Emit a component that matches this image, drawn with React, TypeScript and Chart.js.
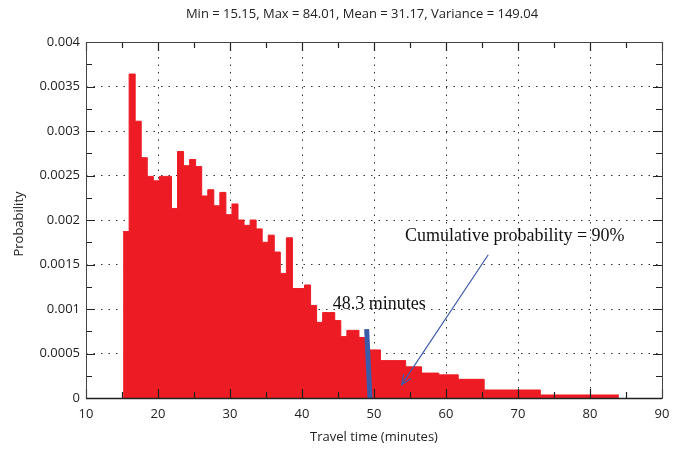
import React, { useEffect, useRef } from 'react';
import { Chart, registerables } from 'chart.js';
Chart.register(...registerables);

// Histogram bin left edges (last value = right edge of last bin)
const binEdges = [
  15.15, 15.99, 16.83, 17.67, 18.51, 19.35, 20.19, 21.03, 21.87, 22.71,
  23.55, 24.39, 25.23, 26.07, 26.91, 27.75, 28.59, 29.43, 30.27, 31.11,
  31.95, 32.79, 33.63, 34.47, 35.31, 36.15, 36.99, 37.83, 38.67, 39.51,
  40.35, 41.19, 42.03, 42.87, 43.71, 44.55, 45.39, 46.23, 47.07, 47.91,
  48.75, 50.9, 54.4, 56.6, 59.0, 61.7, 65.3, 73.1, 84.01,
];
// Probability of each bin
const binProbabilities = [
  0.00187, 0.00364, 0.00311, 0.0027, 0.00249, 0.00244, 0.00249, 0.00249, 0.00213, 0.00277,
  0.00261, 0.00268, 0.0026, 0.00227, 0.00234, 0.00216, 0.00231, 0.00206, 0.00218, 0.002,
  0.00194, 0.002, 0.0019, 0.00175, 0.00183, 0.00164, 0.0014, 0.0018, 0.00123, 0.00123,
  0.00127, 0.00104, 0.00085, 0.00096, 0.00096, 0.00087, 0.00069, 0.00076, 0.00076, 0.00068,
  0.00054, 0.00042, 0.00035, 0.00028, 0.00026, 0.00021, 0.00009, 0.000034,
];
const markerX = [48.98, 49.44];
const markerY = [0.000775, 0];
const arrowFrom = { x: 65.87, y: 0.00161 };
const arrowTo = { x: 53.85, y: 0.00015 };
const minutesLabelAt = { x: 44.26, y: 0.001 };
const cumulativeLabelAt = { x: 54.3, y: 0.001767 };

const titleText = 'Min = 15.15, Max = 84.01, Mean = 31.17, Variance = 149.04';
const xTitle = 'Travel time (minutes)';
const yTitle = 'Probability';
const minutesLabel = '48.3 minutes';
const cumulativeLabel = 'Cumulative probability = 90%';

const SANS = '"Open Sans", "Noto Sans", sans-serif';
const SERIF = '"Liberation Serif", "DejaVu Serif", serif';

const decor = {
  id: 'decor',
  afterDraw(chart: any) {
    const ctx = chart.ctx;
    const { left, right, top, bottom } = chart.chartArea;
    const xs = chart.scales.x;
    const ys = chart.scales.y;
    ctx.save();
    // ticks (inward, all four sides)
    ctx.strokeStyle = '#222';
    ctx.lineWidth = 1.2;
    ctx.beginPath();
    for (let v = 10; v <= 90; v += 5) {
      const px = Math.round(xs.getPixelForValue(v)) + 0.5;
      const len = v % 10 === 0 ? 9 : 6;
      ctx.moveTo(px, bottom);
      ctx.lineTo(px, bottom - len);
      ctx.moveTo(px, top);
      ctx.lineTo(px, top + len);
    }
    for (let i = 0; i <= 16; i++) {
      const v = i * 0.00025;
      const py = Math.round(ys.getPixelForValue(v)) + 0.5;
      const len = i % 2 === 0 ? 9 : 6;
      ctx.moveTo(left, py);
      ctx.lineTo(left + len, py);
      ctx.moveTo(right, py);
      ctx.lineTo(right - len, py);
    }
    ctx.stroke();
    // box
    ctx.strokeStyle = '#444';
    ctx.lineWidth = 1;
    ctx.strokeRect(Math.round(left) + 0.5, Math.round(top) + 0.5, Math.round(right - left), Math.round(bottom - top));
    ctx.strokeStyle = '#222';
    ctx.lineWidth = 1.5;
    ctx.beginPath();
    ctx.moveTo(left, Math.round(bottom) + 0.5);
    ctx.lineTo(right, Math.round(bottom) + 0.5);
    ctx.stroke();

    // arrow
    const ax0 = xs.getPixelForValue(arrowFrom.x);
    const ay0 = ys.getPixelForValue(arrowFrom.y);
    const ax1 = xs.getPixelForValue(arrowTo.x);
    const ay1 = ys.getPixelForValue(arrowTo.y);
    ctx.strokeStyle = '#3b5ba9';
    ctx.lineWidth = 1.2;
    ctx.beginPath();
    ctx.moveTo(ax0, ay0);
    ctx.lineTo(ax1, ay1);
    const ang = Math.atan2(ay1 - ay0, ax1 - ax0);
    const hl = 11;
    const ha = 0.4;
    ctx.moveTo(ax1 - hl * Math.cos(ang - ha), ay1 - hl * Math.sin(ang - ha));
    ctx.lineTo(ax1, ay1);
    ctx.lineTo(ax1 - hl * Math.cos(ang + ha), ay1 - hl * Math.sin(ang + ha));
    ctx.stroke();

    // annotation texts
    ctx.fillStyle = '#111';
    ctx.font = '18px ' + SERIF;
    ctx.textAlign = 'left';
    ctx.textBaseline = 'alphabetic';
    ctx.fillText(minutesLabel, xs.getPixelForValue(minutesLabelAt.x), ys.getPixelForValue(minutesLabelAt.y));
    ctx.fillText(cumulativeLabel, xs.getPixelForValue(cumulativeLabelAt.x), ys.getPixelForValue(cumulativeLabelAt.y));

    // titles
    ctx.fillStyle = '#222';
    ctx.font = '13px ' + SANS;
    ctx.textAlign = 'center';
    ctx.textBaseline = 'middle';
    ctx.fillText(titleText, 362, 14);
    ctx.fillText(xTitle, (left + right) / 2, 437);
    ctx.translate(19, (top + bottom) / 2 + 4);
    ctx.rotate(-Math.PI / 2);
    ctx.fillText(yTitle, 0, 0);
    ctx.restore();
  },
};

export default function App() {
  const ref = useRef<HTMLCanvasElement | null>(null);
  useEffect(() => {
    if (!ref.current) return;
    const histPoints = binProbabilities.map((p, i) => ({ x: binEdges[i], y: p }));
    histPoints.push({ x: binEdges[binEdges.length - 1], y: binProbabilities[binProbabilities.length - 1] });
    const markerPoints = markerX.map((x, i) => ({ x, y: markerY[i] }));
    const chart = new Chart(ref.current, {
      type: 'line',
      data: {
        datasets: [
          {
            data: histPoints,
            stepped: 'before',
            fill: 'origin',
            backgroundColor: '#ed1c24',
            borderColor: '#ed1c24',
            borderWidth: 1,
            pointRadius: 0,
            order: 2,
          },
          {
            data: markerPoints,
            borderColor: '#3b5ba9',
            borderWidth: 5,
            pointRadius: 0,
            fill: false,
            order: 1,
          },
        ],
      },
      options: {
        animation: false,
        responsive: false,
        maintainAspectRatio: false,
        layout: { padding: { left: 0, right: 19, top: 42, bottom: 0 } },
        plugins: { legend: { display: false }, tooltip: { enabled: false }, title: { display: false } },
        scales: {
          x: {
            type: 'linear',
            min: 10,
            max: 90,
            z: 1,
            afterFit: (s: any) => { s.height = 53; },
            ticks: { stepSize: 10, padding: 8, color: '#222', font: { family: SANS, size: 13 } },
            grid: { color: '#333', lineWidth: 1, drawTicks: false },
            border: { display: false, dash: [1.5, 6] },
          },
          y: {
            type: 'linear',
            min: 0,
            max: 0.004,
            z: 1,
            afterFit: (s: any) => { s.width = 86; },
            ticks: {
              stepSize: 0.0005,
              padding: 6,
              color: '#222',
              font: { family: SANS, size: 13 },
              callback: (v: any) => (v === 0 ? '0' : String(+Number(v).toFixed(4))),
            },
            grid: { color: '#333', lineWidth: 1, drawTicks: false },
            border: { display: false, dash: [1.5, 6] },
          },
        },
      },
      plugins: [decor],
    });
    return () => chart.destroy();
  }, []);
  return (
    <div style={{ position: 'fixed', left: 0, top: 0, width: 681, height: 451, background: '#fff' }}>
      <canvas ref={ref} width={681} height={451} style={{ width: 681, height: 451, display: 'block' }} />
    </div>
  );
}
